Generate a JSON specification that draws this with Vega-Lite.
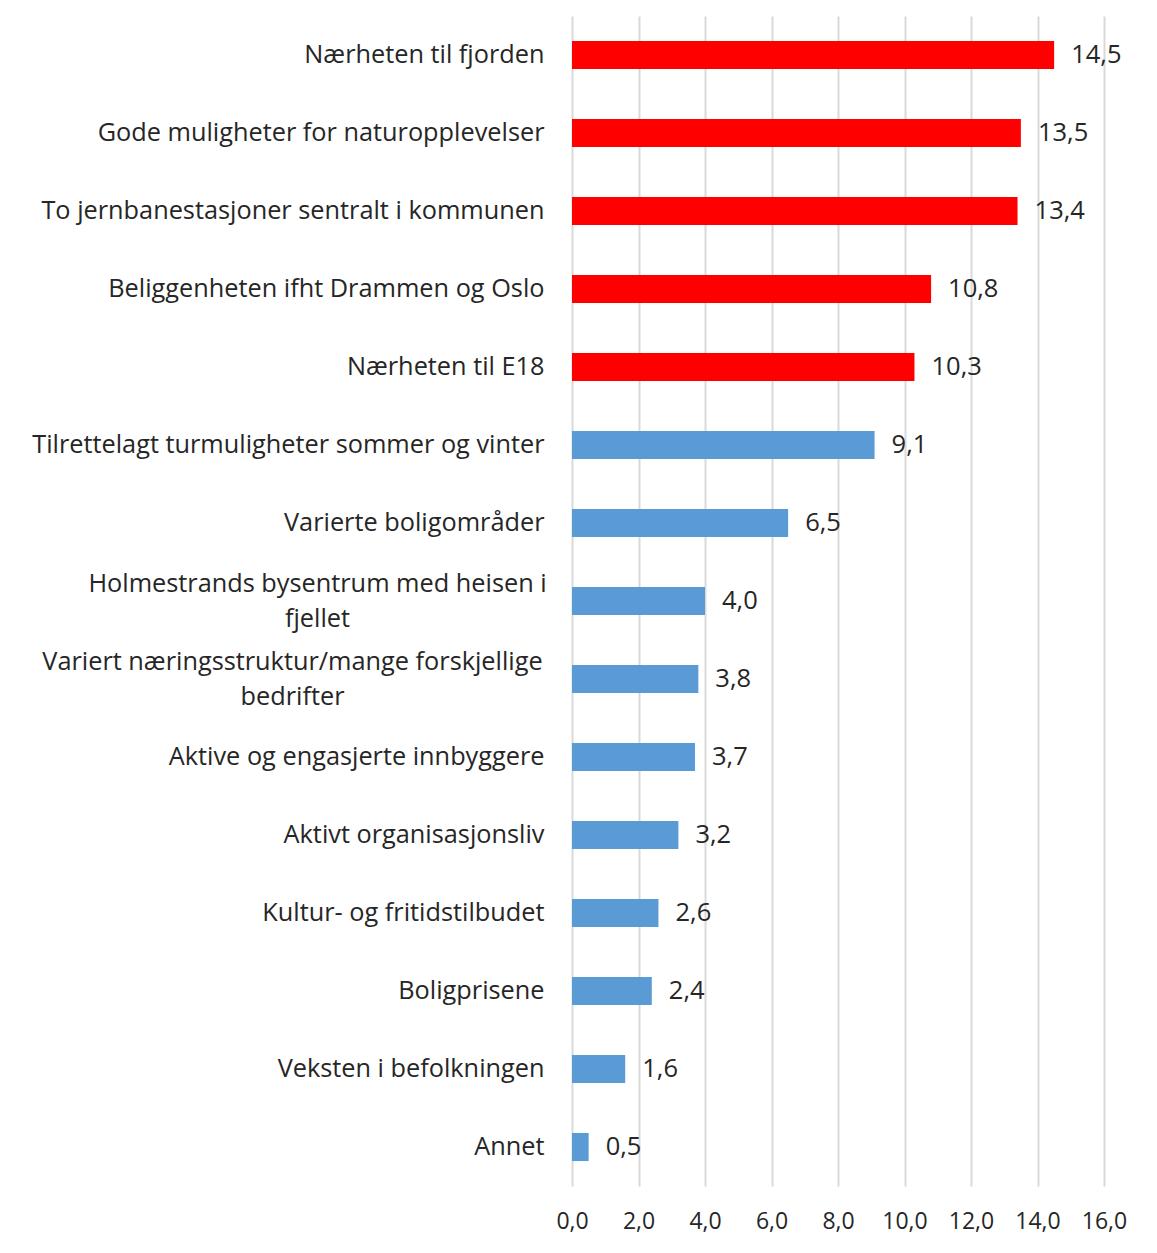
{
  "$schema": "https://vega.github.io/schema/vega-lite/v6.json",
  "width": 532,
  "height": 1170,
  "autosize": {"type": "none"},
  "padding": {"left": 572, "top": 16, "right": 53, "bottom": 67},
  "background": "white",
  "config": {
    "font": "Open Sans",
    "view": {"stroke": null},
    "locale": {"number": {"decimal": ",", "thousands": " ", "grouping": [3], "currency": ["", " kr"]}}
  },
  "data": {
    "values": [
      {"kategori": "Nærheten til fjorden", "prosent": 14.5, "gruppe": "topp"},
      {"kategori": "Gode muligheter for naturopplevelser", "prosent": 13.5, "gruppe": "topp"},
      {"kategori": "To jernbanestasjoner sentralt i kommunen", "prosent": 13.4, "gruppe": "topp"},
      {"kategori": "Beliggenheten ifht Drammen og Oslo", "prosent": 10.8, "gruppe": "topp"},
      {"kategori": "Nærheten til E18", "prosent": 10.3, "gruppe": "topp"},
      {"kategori": "Tilrettelagt turmuligheter sommer og vinter", "prosent": 9.1, "gruppe": "andre"},
      {"kategori": "Varierte boligområder", "prosent": 6.5, "gruppe": "andre"},
      {"kategori": "Holmestrands bysentrum med heisen i|fjellet", "prosent": 4.0, "gruppe": "andre"},
      {"kategori": "Variert næringsstruktur/mange forskjellige|bedrifter", "prosent": 3.8, "gruppe": "andre"},
      {"kategori": "Aktive og engasjerte innbyggere", "prosent": 3.7, "gruppe": "andre"},
      {"kategori": "Aktivt organisasjonsliv", "prosent": 3.2, "gruppe": "andre"},
      {"kategori": "Kultur- og fritidstilbudet", "prosent": 2.6, "gruppe": "andre"},
      {"kategori": "Boligprisene", "prosent": 2.4, "gruppe": "andre"},
      {"kategori": "Veksten i befolkningen", "prosent": 1.6, "gruppe": "andre"},
      {"kategori": "Annet", "prosent": 0.5, "gruppe": "andre"}
    ]
  },
  "encoding": {
    "y": {
      "field": "kategori",
      "type": "nominal",
      "sort": null,
      "scale": {"paddingInner": 0.64, "paddingOuter": 0.32},
      "axis": {
        "title": null,
        "domain": false,
        "ticks": false,
        "grid": false,
        "labelPadding": {
          "condition": [
            {"test": "datum.value == 'Holmestrands bysentrum med heisen i|fjellet'", "value": 255},
            {"test": "datum.value == 'Variert næringsstruktur/mange forskjellige|bedrifter'", "value": 280}
          ],
          "value": 28
        },
        "labelAlign": {
          "condition": {"test": "indexof(datum.value, '|') >= 0", "value": "center"},
          "value": "right"
        },
        "labelOffset": {
          "condition": {"test": "indexof(datum.value, '|') >= 0", "value": -17},
          "value": 0
        },
        "labelFontSize": 25.3,
        "labelColor": "#262626",
        "labelLimit": 0,
        "labelLineHeight": 35,
        "labelExpr": "split(datum.label, '|')"
      }
    },
    "x": {
      "field": "prosent",
      "type": "quantitative",
      "scale": {"domain": [0, 16], "nice": false},
      "axis": {
        "title": null,
        "values": [0, 2, 4, 6, 8, 10, 12, 14, 16],
        "format": ".1f",
        "domain": false,
        "ticks": false,
        "grid": true,
        "gridColor": "#D9D9D9",
        "gridWidth": 2,
        "labelPadding": 24,
        "labelFontSize": 23,
        "labelColor": "#262626",
        "labelFlush": false
      }
    }
  },
  "layer": [
    {
      "mark": {"type": "bar"},
      "encoding": {
        "color": {
          "field": "gruppe",
          "type": "nominal",
          "scale": {"domain": ["topp", "andre"], "range": ["#FF0000", "#5B9BD5"]},
          "legend": null
        }
      }
    },
    {
      "mark": {"type": "text", "align": "left", "baseline": "middle", "dx": 17, "fontSize": 25.5, "color": "#262626"},
      "encoding": {
        "text": {"field": "prosent", "type": "quantitative", "format": ".1f"}
      }
    }
  ]
}
